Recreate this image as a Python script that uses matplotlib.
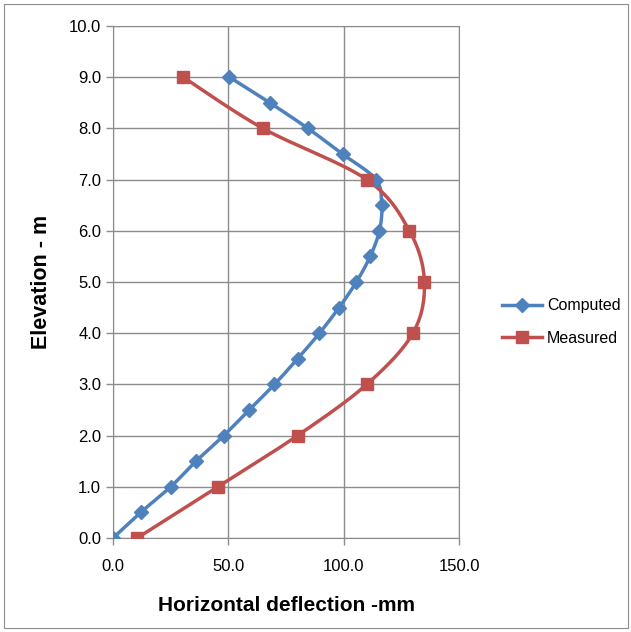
import numpy as np
import matplotlib
matplotlib.use("Agg")
import matplotlib.pyplot as plt
from matplotlib.patches import Rectangle

plt.rcParams["font.family"] = ["Liberation Sans", "DejaVu Sans"]

computed_x = [0, 12, 25, 36, 48, 59, 70, 80, 89.5, 98, 105.5, 111.5, 115.5, 116.5, 114, 99.5, 84.5, 68, 50.5]
computed_y = [0, 0.5, 1.0, 1.5, 2.0, 2.5, 3.0, 3.5, 4.0, 4.5, 5.0, 5.5, 6.0, 6.5, 7.0, 7.5, 8.0, 8.5, 9.0]
measured_x = [10.5, 45.5, 80, 110, 130, 135, 128.5, 110, 65, 30.5]
measured_y = [0, 1, 2, 3, 4, 5, 6, 7, 8, 9]
x_ticks = [0, 50, 100, 150]
y_ticks = list(range(0, 11))

BLUE = "#4F81BD"
RED = "#C0504D"
GRID = "#8C8C8C"


def smooth(xs, ys, n=30):
    p = np.column_stack([xs, ys]).astype(float)
    p = np.vstack([p[0], p, p[-1]])
    out = []
    for i in range(1, len(p) - 2):
        p0, p1, p2, p3 = p[i - 1], p[i], p[i + 1], p[i + 2]
        t = np.linspace(0, 1, n)[:, None]
        c = 0.5 * ((2 * p1) + (-p0 + p2) * t + (2 * p0 - 5 * p1 + 4 * p2 - p3) * t ** 2
                   + (-p0 + 3 * p1 - 3 * p2 + p3) * t ** 3)
        out.append(c if i == 1 else c[1:])
    out = np.vstack(out)
    return out[:, 0], out[:, 1]


fig = plt.figure(figsize=(6.31, 6.32), dpi=100)
fig.patches.append(Rectangle((4 / 631, 4 / 632), 624 / 631, 624 / 632, transform=fig.transFigure,
                             fill=False, edgecolor=GRID, linewidth=0.8))
ax = fig.add_axes([113 / 631, 1 - 538 / 632, 346 / 631, 512 / 632])

sx, sy = smooth(computed_x, computed_y)
ax.plot(sx, sy, color=BLUE, lw=2.5, zorder=3)
ax.plot(computed_x, computed_y, ls="none", marker="D", ms=7, color=BLUE, zorder=4)
mx, my = smooth(measured_x, measured_y)
ax.plot(mx, my, color=RED, lw=2.5, zorder=3)
ax.plot(measured_x, measured_y, ls="none", marker="s", ms=9, color=RED, zorder=4)

ax.plot([], [], color=BLUE, lw=2.5, marker="D", ms=7, label="Computed")
ax.plot([], [], color=RED, lw=2.5, marker="s", ms=9, label="Measured")

ax.set_xlim(0, 150)
ax.set_ylim(0, 10)
ax.set_xticks(x_ticks)
ax.set_xticklabels([f"{v:.1f}" for v in x_ticks])
ax.set_yticks(y_ticks)
ax.set_yticklabels([f"{v:.1f}" for v in y_ticks])
ax.grid(True, color=GRID, lw=1)
ax.set_axisbelow(True)
for s in ["top", "right", "left", "bottom"]:
    ax.spines[s].set_color(GRID)
ax.tick_params(colors=GRID, labelcolor="black", labelsize=12, length=5, width=1)
ax.tick_params(axis="x", pad=10)
ax.set_xlabel("Horizontal deflection -mm", fontsize=15, fontweight="bold", labelpad=16)
ax.set_ylabel("Elevation - m", fontsize=15.5, fontweight="bold", labelpad=12)

fig.legend(loc="center left", bbox_to_anchor=(488 / 631, 1 - 322 / 632), frameon=False,
           fontsize=11.5, handlelength=2.5, labelspacing=1.1, handletextpad=0.3)

fig.savefig("out.png", dpi=100)
